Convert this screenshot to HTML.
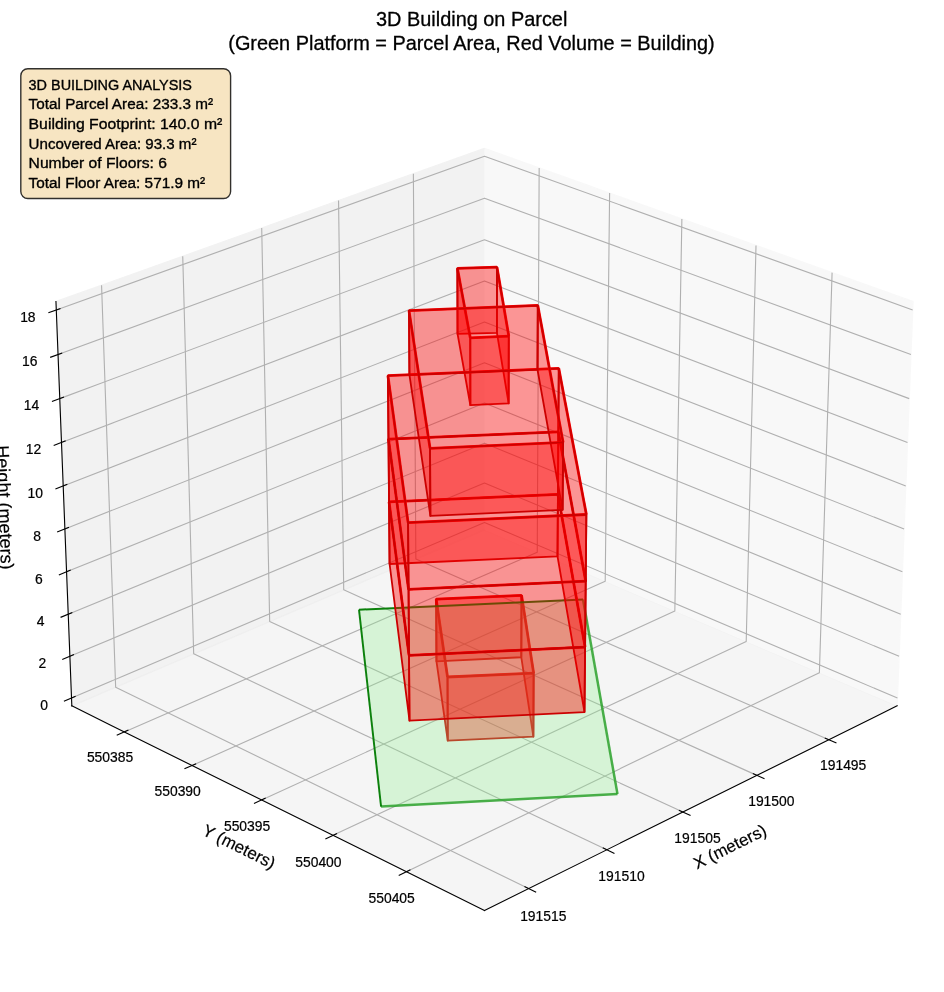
<!DOCTYPE html>
<html><head><meta charset="utf-8"><style>
html,body{margin:0;padding:0;background:#fff;}
#wrap{position:relative;width:944px;height:992px;overflow:hidden;background:#fff;font-family:"Liberation Sans",sans-serif;}
#plot{will-change:transform;position:absolute;left:-143.06px;top:-86.32px;}
</style></head><body><div id="wrap"><div id="plot"><svg width="1200" height="1200" viewBox="0 0 864 864" version="1.1"> <defs> <style type="text/css">*{stroke-linejoin: round; stroke-linecap: butt}</style> </defs> <g id="figure_1"> <g id="patch_1"> <path d="M 0 864 L 864 864 L 864 0 L 0 0 z " style="fill: #ffffff"/> </g> <g id="patch_2"> <path d="M 110.16 768.96 L 775.44 768.96 L 775.44 103.68 L 110.16 103.68 z " style="fill: #ffffff"/> </g> <g id="pane3d_1"> <g id="patch_3"> <path d="M 451.79027 443.368424 L 748.902828 570.134589 L 760.329594 279.032684 L 451.79027 168.745698 " style="fill: #f2f2f2; opacity: 0.5; stroke: #f2f2f2; stroke-linejoin: miter"/> </g> </g> <g id="pane3d_2"> <g id="patch_4"> <path d="M 451.79027 443.368424 L 154.677712 570.134589 L 143.250947 279.032684 L 451.79027 168.745698 " style="fill: #e6e6e6; opacity: 0.5; stroke: #e6e6e6; stroke-linejoin: miter"/> </g> </g> <g id="pane3d_3"> <g id="patch_5"> <path d="M 451.79027 443.368424 L 154.677712 570.134589 L 451.79027 717.421782 L 748.902828 570.134589 " style="fill: #ececec; opacity: 0.5; stroke: #ececec; stroke-linejoin: miter"/> </g> </g> <g id="grid3d_1"> <g id="Line3DCollection_1"> <path d="M 699.718483 594.516676 L 402.374721 464.452082 L 400.588593 187.047672 " style="fill: none; stroke: #b0b0b0; stroke-width: 0.8"/> <path d="M 647.920293 620.19452 L 350.432583 486.613736 L 346.7199 206.302967 " style="fill: none; stroke: #b0b0b0; stroke-width: 0.8"/> <path d="M 594.659207 646.597564 L 297.12966 509.355983 L 291.387555 226.081443 " style="fill: none; stroke: #b0b0b0; stroke-width: 0.8"/> <path d="M 539.872365 673.756968 L 242.411769 532.70194 L 234.531084 246.404716 " style="fill: none; stroke: #b0b0b0; stroke-width: 0.8"/> <path d="M 483.493252 701.705707 L 186.221809 556.675972 L 176.086634 267.29561 " style="fill: none; stroke: #b0b0b0; stroke-width: 0.8"/> </g> </g> <g id="grid3d_2"> <g id="Line3DCollection_2"> <path d="M 491.157885 182.817601 L 489.788482 459.580756 L 192.489984 588.879214 " style="fill: none; stroke: #b0b0b0; stroke-width: 0.8"/> <path d="M 541.88206 200.948893 L 538.709944 480.453607 L 241.252038 613.051959 " style="fill: none; stroke: #b0b0b0; stroke-width: 0.8"/> <path d="M 593.906846 219.545086 L 588.841081 501.842579 L 291.313473 637.868844 " style="fill: none; stroke: #b0b0b0; stroke-width: 0.8"/> <path d="M 647.282918 238.624294 L 640.227324 523.767054 L 342.726926 663.355963 " style="fill: none; stroke: #b0b0b0; stroke-width: 0.8"/> <path d="M 702.063614 258.205584 L 692.916404 546.247398 L 395.547919 689.54084 " style="fill: none; stroke: #b0b0b0; stroke-width: 0.8"/> </g> </g> <g id="grid3d_3"> <g id="Line3DCollection_3"> <path d="M 154.457478 564.524015 L 451.79027 438.061555 L 749.123063 564.524015 " style="fill: none; stroke: #b0b0b0; stroke-width: 0.8"/> <path d="M 153.277357 534.459917 L 451.79027 409.63419 L 750.303184 534.459917 " style="fill: none; stroke: #b0b0b0; stroke-width: 0.8"/> <path d="M 152.087831 504.156218 L 451.79027 380.996178 L 751.49271 504.156218 " style="fill: none; stroke: #b0b0b0; stroke-width: 0.8"/> <path d="M 150.888787 473.610042 L 451.79027 352.14517 L 752.691754 473.610042 " style="fill: none; stroke: #b0b0b0; stroke-width: 0.8"/> <path d="M 149.68011 442.818468 L 451.79027 323.078781 L 753.90043 442.818468 " style="fill: none; stroke: #b0b0b0; stroke-width: 0.8"/> <path d="M 148.461684 411.778525 L 451.79027 293.794589 L 755.118856 411.778525 " style="fill: none; stroke: #b0b0b0; stroke-width: 0.8"/> <path d="M 147.23339 380.487197 L 451.79027 264.290137 L 756.34715 380.487197 " style="fill: none; stroke: #b0b0b0; stroke-width: 0.8"/> <path d="M 145.995108 348.941417 L 451.79027 234.562932 L 757.585432 348.941417 " style="fill: none; stroke: #b0b0b0; stroke-width: 0.8"/> <path d="M 144.746716 317.13807 L 451.79027 204.61044 L 758.833824 317.13807 " style="fill: none; stroke: #b0b0b0; stroke-width: 0.8"/> <path d="M 143.488089 285.073987 L 451.79027 174.430091 L 760.092452 285.073987 " style="fill: none; stroke: #b0b0b0; stroke-width: 0.8"/> </g> </g> <g id="axis3d_1"> <g id="line2d_1"> <path d="M 748.902828 570.134589 L 451.79027 717.421782 " style="fill: none; stroke: #000000; stroke-width: 0.8; stroke-linecap: square"/> </g> <g id="xtick_1"> <g id="line2d_2"> <path d="M 697.160779 593.39788 L 704.843219 596.758346 " style="fill: none; stroke: #000000; stroke-width: 0.8; stroke-linecap: square"/> </g> <g id="text_1"> <text style="font-size: 10px; font-family: 'Liberation Sans'; stroke: #000; stroke-width: 0.15; text-anchor: middle" x="710.040" y="616.544">191495</text> </g> </g> <g id="xtick_2"> <g id="line2d_3"> <path d="M 645.358859 619.04436 L 653.052632 622.499092 " style="fill: none; stroke: #000000; stroke-width: 0.8; stroke-linecap: square"/> </g> <g id="text_2"> <text style="font-size: 10px; font-family: 'Liberation Sans'; stroke: #000; stroke-width: 0.15; text-anchor: middle" x="658.319" y="642.451">191500</text> </g> </g> <g id="xtick_3"> <g id="line2d_4"> <path d="M 592.094851 645.414702 L 599.797536 648.967723 " style="fill: none; stroke: #000000; stroke-width: 0.8; stroke-linecap: square"/> </g> <g id="text_3"> <text style="font-size: 10px; font-family: 'Liberation Sans'; stroke: #000; stroke-width: 0.15; text-anchor: middle" x="605.135" y="669.090">191505</text> </g> </g> <g id="xtick_4"> <g id="line2d_5"> <path d="M 537.305968 672.53999 L 545.014921 676.195554 " style="fill: none; stroke: #000000; stroke-width: 0.8; stroke-linecap: square"/> </g> <g id="text_4"> <text style="font-size: 10px; font-family: 'Liberation Sans'; stroke: #000; stroke-width: 0.15; text-anchor: middle" x="550.426" y="696.494">191510</text> </g> </g> <g id="xtick_5"> <g id="line2d_6"> <path d="M 480.925778 700.453114 L 488.63811 704.215727 " style="fill: none; stroke: #000000; stroke-width: 0.8; stroke-linecap: square"/> </g> <g id="text_5"> <text style="font-size: 10px; font-family: 'Liberation Sans'; stroke: #000; stroke-width: 0.15; text-anchor: middle" x="494.124" y="724.696">191515</text> </g> </g> <g id="text_6"> <text style="font-size: 12.2px; font-family: 'Liberation Sans'; stroke: #000; stroke-width: 0.15; text-anchor: middle" x="630.298929" y="675.255804" transform="rotate(-26.36893 630.298929 675.255804)">X (meters)</text> </g> </g> <g id="axis3d_2"> <g id="line2d_7"> <path d="M 154.677712 570.134589 L 451.79027 717.421782 " style="fill: none; stroke: #000000; stroke-width: 0.8; stroke-linecap: square"/> </g> <g id="xtick_6"> <g id="line2d_8"> <path d="M 195.046752 587.767246 L 187.367152 591.107191 " style="fill: none; stroke: #000000; stroke-width: 0.8; stroke-linecap: square"/> </g> <g id="text_7"> <text style="font-size: 10px; font-family: 'Liberation Sans'; stroke: #000; stroke-width: 0.15; text-anchor: middle" x="182.185" y="610.856">550385</text> </g> </g> <g id="xtick_7"> <g id="line2d_9"> <path d="M 243.812523 611.910567 L 236.121638 615.338946 " style="fill: none; stroke: #000000; stroke-width: 0.8; stroke-linecap: square"/> </g> <g id="text_8"> <text style="font-size: 10px; font-family: 'Liberation Sans'; stroke: #000; stroke-width: 0.15; text-anchor: middle" x="230.875" y="635.244">550390</text> </g> </g> <g id="xtick_8"> <g id="line2d_10"> <path d="M 293.876965 636.696844 L 286.176919 640.217218 " style="fill: none; stroke: #000000; stroke-width: 0.8; stroke-linecap: square"/> </g> <g id="text_9"> <text style="font-size: 10px; font-family: 'Liberation Sans'; stroke: #000; stroke-width: 0.15; text-anchor: middle" x="280.863" y="660.283">550395</text> </g> </g> <g id="xtick_9"> <g id="line2d_11"> <path d="M 345.292657 662.152107 L 337.585758 665.768229 " style="fill: none; stroke: #000000; stroke-width: 0.8; stroke-linecap: square"/> </g> <g id="text_10"> <text style="font-size: 10px; font-family: 'Liberation Sans'; stroke: #000; stroke-width: 0.15; text-anchor: middle" x="332.203" y="685.999">550400</text> </g> </g> <g id="xtick_10"> <g id="line2d_12"> <path d="M 398.115052 688.303811 L 390.403808 692.019641 " style="fill: none; stroke: #000000; stroke-width: 0.8; stroke-linecap: square"/> </g> <g id="text_11"> <text style="font-size: 10px; font-family: 'Liberation Sans'; stroke: #000; stroke-width: 0.15; text-anchor: middle" x="384.951" y="712.421">550405</text> </g> </g> <g id="text_12"> <text style="font-size: 12.2px; font-family: 'Liberation Sans'; stroke: #000; stroke-width: 0.15; text-anchor: middle" x="273.281612" y="675.255804" transform="rotate(-333.63107 273.281612 675.255804)">Y (meters)</text> </g> </g> <g id="axis3d_3"> <g id="line2d_13"> <path d="M 154.677712 570.134589 L 143.250947 279.032684 " style="fill: none; stroke: #000000; stroke-width: 0.8; stroke-linecap: square"/> </g> <g id="xtick_11"> <g id="line2d_14"> <path d="M 157.012854 563.437155 L 149.337523 566.701649 " style="fill: none; stroke: #000000; stroke-width: 0.8; stroke-linecap: square"/> </g> <g id="text_13"> <text style="font-size: 10px; font-family: 'Liberation Sans'; stroke: #000; stroke-width: 0.15; text-anchor: middle" x="134.721" y="572.995">0</text> </g> </g> <g id="xtick_12"> <g id="line2d_15"> <path d="M 155.843579 533.386829 L 148.135635 536.609972 " style="fill: none; stroke: #000000; stroke-width: 0.8; stroke-linecap: square"/> </g> <g id="text_14"> <text style="font-size: 10px; font-family: 'Liberation Sans'; stroke: #000; stroke-width: 0.15; text-anchor: middle" x="133.463" y="542.931">2</text> </g> </g> <g id="xtick_13"> <g id="line2d_16"> <path d="M 154.664991 503.097157 L 146.924156 506.278184 " style="fill: none; stroke: #000000; stroke-width: 0.8; stroke-linecap: square"/> </g> <g id="text_15"> <text style="font-size: 10px; font-family: 'Liberation Sans'; stroke: #000; stroke-width: 0.15; text-anchor: middle" x="132.194" y="512.627">4</text> </g> </g> <g id="xtick_14"> <g id="line2d_17"> <path d="M 153.476979 472.565267 L 145.702971 475.7034 " style="fill: none; stroke: #000000; stroke-width: 0.8; stroke-linecap: square"/> </g> <g id="text_16"> <text style="font-size: 10px; font-family: 'Liberation Sans'; stroke: #000; stroke-width: 0.15; text-anchor: middle" x="130.916" y="482.081">6</text> </g> </g> <g id="xtick_15"> <g id="line2d_18"> <path d="M 152.279428 441.788243 L 144.471964 444.882687 " style="fill: none; stroke: #000000; stroke-width: 0.8; stroke-linecap: square"/> </g> <g id="text_17"> <text style="font-size: 10px; font-family: 'Liberation Sans'; stroke: #000; stroke-width: 0.15; text-anchor: middle" x="129.627" y="451.289">8</text> </g> </g> <g id="xtick_16"> <g id="line2d_19"> <path d="M 151.072223 410.763119 L 143.231016 413.813067 " style="fill: none; stroke: #000000; stroke-width: 0.8; stroke-linecap: square"/> </g> <g id="text_18"> <text style="font-size: 10px; font-family: 'Liberation Sans'; stroke: #000; stroke-width: 0.15; text-anchor: middle" x="128.327" y="420.249">10</text> </g> </g> <g id="xtick_17"> <g id="line2d_20"> <path d="M 149.855248 379.486884 L 141.980004 382.491512 " style="fill: none; stroke: #000000; stroke-width: 0.8; stroke-linecap: square"/> </g> <g id="text_19"> <text style="font-size: 10px; font-family: 'Liberation Sans'; stroke: #000; stroke-width: 0.15; text-anchor: middle" x="127.017" y="388.958">12</text> </g> </g> <g id="xtick_18"> <g id="line2d_21"> <path d="M 148.628382 347.956477 L 140.718808 350.914945 " style="fill: none; stroke: #000000; stroke-width: 0.8; stroke-linecap: square"/> </g> <g id="text_20"> <text style="font-size: 10px; font-family: 'Liberation Sans'; stroke: #000; stroke-width: 0.15; text-anchor: middle" x="125.697" y="357.412">14</text> </g> </g> <g id="xtick_19"> <g id="line2d_22"> <path d="M 147.391506 316.168787 L 139.447301 319.080239 " style="fill: none; stroke: #000000; stroke-width: 0.8; stroke-linecap: square"/> </g> <g id="text_21"> <text style="font-size: 10px; font-family: 'Liberation Sans'; stroke: #000; stroke-width: 0.15; text-anchor: middle" x="124.366" y="325.609">16</text> </g> </g> <g id="xtick_20"> <g id="line2d_23"> <path d="M 146.144495 284.120652 L 138.165357 286.984216 " style="fill: none; stroke: #000000; stroke-width: 0.8; stroke-linecap: square"/> </g> <g id="text_22"> <text style="font-size: 10px; font-family: 'Liberation Sans'; stroke: #000; stroke-width: 0.15; text-anchor: middle" x="123.024" y="293.545">18</text> </g> </g> <g id="text_23"> <text style="font-size: 13px; font-family: 'Liberation Sans'; stroke: #000; stroke-width: 0.15; text-anchor: middle" x="102.030719" y="427.461587" transform="rotate(-272.247905 102.030719 427.461587)">Height (meters)</text> </g> </g> <g id="axes_1"> <g id="Line3DCollection_4"> <path d="M 417.007352 493.363448 L 478.464819 490.533183 " clip-path="url(#p4aca11e239)" style="fill: none; stroke: #ff0000; stroke-width: 2"/> <path d="M 478.464819 490.533183 L 487.191937 546.616207 " clip-path="url(#p4aca11e239)" style="fill: none; stroke: #ff0000; stroke-width: 2"/> <path d="M 487.191937 546.616207 L 425.176098 549.360322 " clip-path="url(#p4aca11e239)" style="fill: none; stroke: #ff0000; stroke-width: 2"/> <path d="M 425.176098 549.360322 L 417.007352 493.363448 " clip-path="url(#p4aca11e239)" style="fill: none; stroke: #ff0000; stroke-width: 2"/> </g> <g id="Poly3DCollection_1"> <path d="M 417.210604 538.041411 L 478.3092 535.155531 L 478.464819 490.533183 L 417.007352 493.363448 z " clip-path="url(#p4aca11e239)" style="fill: #ff0000; fill-opacity: 0.4; stroke: #cc0000; stroke-width: 1.3"/> <path d="M 478.3092 535.155531 L 486.978787 592.330397 L 487.191937 546.616207 L 478.464819 490.533183 z " clip-path="url(#p4aca11e239)" style="fill: #ff0000; fill-opacity: 0.4; stroke: #cc0000; stroke-width: 1.3"/> <path d="M 425.336583 595.127384 L 417.210604 538.041411 L 417.007352 493.363448 L 425.176098 549.360322 z " clip-path="url(#p4aca11e239)" style="fill: #ff0000; fill-opacity: 0.4; stroke: #cc0000; stroke-width: 1.3"/> <path d="M 486.978787 592.330397 L 425.336583 595.127384 L 425.176098 549.360322 L 487.191937 546.616207 z " clip-path="url(#p4aca11e239)" style="fill: #ff0000; fill-opacity: 0.4; stroke: #cc0000; stroke-width: 1.3"/> </g> <g id="Poly3DCollection_2"> <path d="M 361.437793 500.896311 L 522.750029 493.61552 L 547.553219 633.636945 L 377.33794 642.674514 z " clip-path="url(#p4aca11e239)" style="fill: #90ee90; fill-opacity: 0.3"/> </g> <g id="Line3DCollection_5"> <path d="M 361.437793 500.896311 L 522.750029 493.61552 " clip-path="url(#p4aca11e239)" style="fill: none; stroke: #007a00; stroke-opacity: 0.95; stroke-width: 1.4"/> <path d="M 522.750029 493.61552 L 547.553219 633.636945 " clip-path="url(#p4aca11e239)" style="fill: none; stroke: #2ba12b; stroke-opacity: 0.85; stroke-width: 1.8"/> <path d="M 547.553219 633.636945 L 377.33794 642.674514 " clip-path="url(#p4aca11e239)" style="fill: none; stroke: #2ba12b; stroke-opacity: 0.85; stroke-width: 1.8"/> <path d="M 377.33794 642.674514 L 361.437793 500.896311 " clip-path="url(#p4aca11e239)" style="fill: none; stroke: #007a00; stroke-opacity: 0.95; stroke-width: 1.4"/> </g> <g id="Line3DCollection_6"> <path d="M 383.066675 423.304888 L 504.668602 417.934596 " clip-path="url(#p4aca11e239)" style="fill: none; stroke: #ff0000; stroke-width: 2"/> <path d="M 504.668602 417.934596 L 524.230449 527.770901 " clip-path="url(#p4aca11e239)" style="fill: none; stroke: #ff0000; stroke-width: 2"/> <path d="M 524.230449 527.770901 L 397.463661 533.813819 " clip-path="url(#p4aca11e239)" style="fill: none; stroke: #ff0000; stroke-width: 2"/> <path d="M 397.463661 533.813819 L 383.066675 423.304888 " clip-path="url(#p4aca11e239)" style="fill: none; stroke: #ff0000; stroke-width: 2"/> </g> <g id="Poly3DCollection_3"> <path d="M 383.464738 467.997197 L 504.363296 462.515267 L 504.668602 417.934596 L 383.066675 423.304888 z " clip-path="url(#p4aca11e239)" style="fill: #ff0000; fill-opacity: 0.4; stroke: #cc0000; stroke-width: 1.3"/> <path d="M 504.363296 462.515267 L 523.784817 574.594307 L 524.230449 527.770901 L 504.668602 417.934596 z " clip-path="url(#p4aca11e239)" style="fill: #ff0000; fill-opacity: 0.4; stroke: #cc0000; stroke-width: 1.3"/> <path d="M 397.798993 580.758142 L 383.464738 467.997197 L 383.066675 423.304888 L 397.463661 533.813819 z " clip-path="url(#p4aca11e239)" style="fill: #ff0000; fill-opacity: 0.4; stroke: #cc0000; stroke-width: 1.3"/> <path d="M 523.784817 574.594307 L 397.798993 580.758142 L 397.463661 533.813819 L 524.230449 527.770901 z " clip-path="url(#p4aca11e239)" style="fill: #ff0000; fill-opacity: 0.4; stroke: #cc0000; stroke-width: 1.3"/> </g> <g id="Line3DCollection_7"> <path d="M 432.274339 255.084166 L 460.792801 254.318213 " clip-path="url(#p4aca11e239)" style="fill: none; stroke: #ff0000; stroke-width: 2"/> <path d="M 460.792801 254.318213 L 469.284331 303.882336 " clip-path="url(#p4aca11e239)" style="fill: none; stroke: #ff0000; stroke-width: 2"/> <path d="M 469.284331 303.882336 L 441.560398 305.178864 " clip-path="url(#p4aca11e239)" style="fill: none; stroke: #ff0000; stroke-width: 2"/> <path d="M 441.560398 305.178864 L 432.274339 255.084166 " clip-path="url(#p4aca11e239)" style="fill: none; stroke: #ff0000; stroke-width: 2"/> </g> <g id="Poly3DCollection_4"> <path d="M 432.391287 302.329671 L 460.738881 301.544399 L 460.792801 254.318213 L 432.274339 255.084166 z " clip-path="url(#p4aca11e239)" style="fill: #ff0000; fill-opacity: 0.4; stroke: #cc0000; stroke-width: 1.3"/> <path d="M 460.738881 301.544399 L 469.176119 352.348765 L 469.284331 303.882336 L 460.792801 254.318213 z " clip-path="url(#p4aca11e239)" style="fill: #ff0000; fill-opacity: 0.4; stroke: #cc0000; stroke-width: 1.3"/> <path d="M 441.623729 353.677467 L 432.391287 302.329671 L 432.274339 255.084166 L 441.560398 305.178864 z " clip-path="url(#p4aca11e239)" style="fill: #ff0000; fill-opacity: 0.4; stroke: #cc0000; stroke-width: 1.3"/> <path d="M 469.176119 352.348765 L 441.623729 353.677467 L 441.560398 305.178864 L 469.284331 303.882336 z " clip-path="url(#p4aca11e239)" style="fill: #ff0000; fill-opacity: 0.4; stroke: #cc0000; stroke-width: 1.3"/> </g> <g id="Line3DCollection_8"> <path d="M 382.663947 378.088775 L 504.977475 372.833116 " clip-path="url(#p4aca11e239)" style="fill: none; stroke: #ff0000; stroke-width: 2"/> <path d="M 504.977475 372.833116 L 524.681631 480.364229 " clip-path="url(#p4aca11e239)" style="fill: none; stroke: #ff0000; stroke-width: 2"/> <path d="M 524.681631 480.364229 L 397.124139 486.282724 " clip-path="url(#p4aca11e239)" style="fill: none; stroke: #ff0000; stroke-width: 2"/> <path d="M 397.124139 486.282724 L 382.663947 378.088775 " clip-path="url(#p4aca11e239)" style="fill: none; stroke: #ff0000; stroke-width: 2"/> </g> <g id="Poly3DCollection_5"> <path d="M 383.066675 423.304888 L 504.668602 417.934596 L 504.977475 372.833116 L 382.663947 378.088775 z " clip-path="url(#p4aca11e239)" style="fill: #ff0000; fill-opacity: 0.4; stroke: #cc0000; stroke-width: 1.3"/> <path d="M 504.668602 417.934596 L 524.230449 527.770901 L 524.681631 480.364229 L 504.977475 372.833116 z " clip-path="url(#p4aca11e239)" style="fill: #ff0000; fill-opacity: 0.4; stroke: #cc0000; stroke-width: 1.3"/> <path d="M 397.463661 533.813819 L 383.066675 423.304888 L 382.663947 378.088775 L 397.124139 486.282724 z " clip-path="url(#p4aca11e239)" style="fill: #ff0000; fill-opacity: 0.4; stroke: #cc0000; stroke-width: 1.3"/> <path d="M 524.230449 527.770901 L 397.463661 533.813819 L 397.124139 486.282724 L 524.681631 480.364229 z " clip-path="url(#p4aca11e239)" style="fill: #ff0000; fill-opacity: 0.4; stroke: #cc0000; stroke-width: 1.3"/> </g> <g id="Line3DCollection_9"> <path d="M 382.256471 332.339595 L 505.289978 327.201647 " clip-path="url(#p4aca11e239)" style="fill: none; stroke: #ff0000; stroke-width: 2"/> <path d="M 505.289978 327.201647 L 525.138469 432.363327 " clip-path="url(#p4aca11e239)" style="fill: none; stroke: #ff0000; stroke-width: 2"/> <path d="M 525.138469 432.363327 L 396.780346 438.153787 " clip-path="url(#p4aca11e239)" style="fill: none; stroke: #ff0000; stroke-width: 2"/> <path d="M 396.780346 438.153787 L 382.256471 332.339595 " clip-path="url(#p4aca11e239)" style="fill: none; stroke: #ff0000; stroke-width: 2"/> </g> <g id="Poly3DCollection_6"> <path d="M 382.663947 378.088775 L 504.977475 372.833116 L 505.289978 327.201647 L 382.256471 332.339595 z " clip-path="url(#p4aca11e239)" style="fill: #ff0000; fill-opacity: 0.4; stroke: #cc0000; stroke-width: 1.3"/> <path d="M 504.977475 372.833116 L 524.681631 480.364229 L 525.138469 432.363327 L 505.289978 327.201647 z " clip-path="url(#p4aca11e239)" style="fill: #ff0000; fill-opacity: 0.4; stroke: #cc0000; stroke-width: 1.3"/> <path d="M 397.124139 486.282724 L 382.663947 378.088775 L 382.256471 332.339595 L 396.780346 438.153787 z " clip-path="url(#p4aca11e239)" style="fill: #ff0000; fill-opacity: 0.4; stroke: #cc0000; stroke-width: 1.3"/> <path d="M 524.681631 480.364229 L 397.124139 486.282724 L 396.780346 438.153787 L 525.138469 432.363327 z " clip-path="url(#p4aca11e239)" style="fill: #ff0000; fill-opacity: 0.4; stroke: #cc0000; stroke-width: 1.3"/> </g> <g id="Line3DCollection_10"> <path d="M 397.43373 285.544742 L 490.169907 281.870646 " clip-path="url(#p4aca11e239)" style="fill: none; stroke: #ff0000; stroke-width: 2"/> <path d="M 490.169907 281.870646 L 508.403277 380.461594 " clip-path="url(#p4aca11e239)" style="fill: none; stroke: #ff0000; stroke-width: 2"/> <path d="M 508.403277 380.461594 L 412.597326 384.698252 " clip-path="url(#p4aca11e239)" style="fill: none; stroke: #ff0000; stroke-width: 2"/> <path d="M 412.597326 384.698252 L 397.43373 285.544742 " clip-path="url(#p4aca11e239)" style="fill: none; stroke: #ff0000; stroke-width: 2"/> </g> <g id="Poly3DCollection_7"> <path d="M 397.75404 331.82436 L 489.944284 328.061749 L 490.169907 281.870646 L 397.43373 285.544742 z " clip-path="url(#p4aca11e239)" style="fill: #ff0000; fill-opacity: 0.4; stroke: #cc0000; stroke-width: 1.3"/> <path d="M 489.944284 328.061749 L 508.049173 428.99113 L 508.403277 380.461594 L 490.169907 281.870646 z " clip-path="url(#p4aca11e239)" style="fill: #ff0000; fill-opacity: 0.4; stroke: #cc0000; stroke-width: 1.3"/> <path d="M 412.843104 433.326563 L 397.75404 331.82436 L 397.43373 285.544742 L 412.597326 384.698252 z " clip-path="url(#p4aca11e239)" style="fill: #ff0000; fill-opacity: 0.4; stroke: #cc0000; stroke-width: 1.3"/> <path d="M 508.049173 428.99113 L 412.843104 433.326563 L 412.597326 384.698252 L 508.403277 380.461594 z " clip-path="url(#p4aca11e239)" style="fill: #ff0000; fill-opacity: 0.4; stroke: #cc0000; stroke-width: 1.3"/> </g> </g> </g> <defs> <clipPath id="p4aca11e239"> <rect x="110.16" y="103.68" width="665.28" height="665.28"/> </clipPath> </defs> </svg> </div><svg width="944" height="992" viewBox="0 0 944 992" style="position:absolute;left:0;top:0;will-change:transform">
<g font-family="Liberation Sans" fill="#000" stroke="#000" stroke-width="0.3">
<text x="471.7" y="25.7" font-size="19.9" text-anchor="middle">3D Building on Parcel</text>
<text x="471.5" y="49.5" font-size="19.9" text-anchor="middle">(Green Platform = Parcel Area, Red Volume = Building)</text>
</g>
<rect x="20.8" y="68.7" width="209.8" height="129.8" rx="7" ry="7" fill="rgb(247,229,194)" stroke="#000" stroke-opacity="0.8" stroke-width="1.39"/>
<g font-family="Liberation Sans" font-size="15.3" fill="#000" stroke="#000" stroke-width="0.35"><text x="28.6" y="89.5" textLength="163.4" lengthAdjust="spacingAndGlyphs">3D BUILDING ANALYSIS</text><text x="28.6" y="109.1" textLength="184.4" lengthAdjust="spacingAndGlyphs">Total Parcel Area: 233.3 m²</text><text x="28.6" y="128.8" textLength="193.7" lengthAdjust="spacingAndGlyphs">Building Footprint: 140.0 m²</text><text x="28.6" y="148.6" textLength="167.9" lengthAdjust="spacingAndGlyphs">Uncovered Area: 93.3 m²</text><text x="28.6" y="168.1" textLength="138.3" lengthAdjust="spacingAndGlyphs">Number of Floors: 6</text><text x="28.6" y="187.6" textLength="176.6" lengthAdjust="spacingAndGlyphs">Total Floor Area: 571.9 m²</text></g>
</svg></div></body></html>
